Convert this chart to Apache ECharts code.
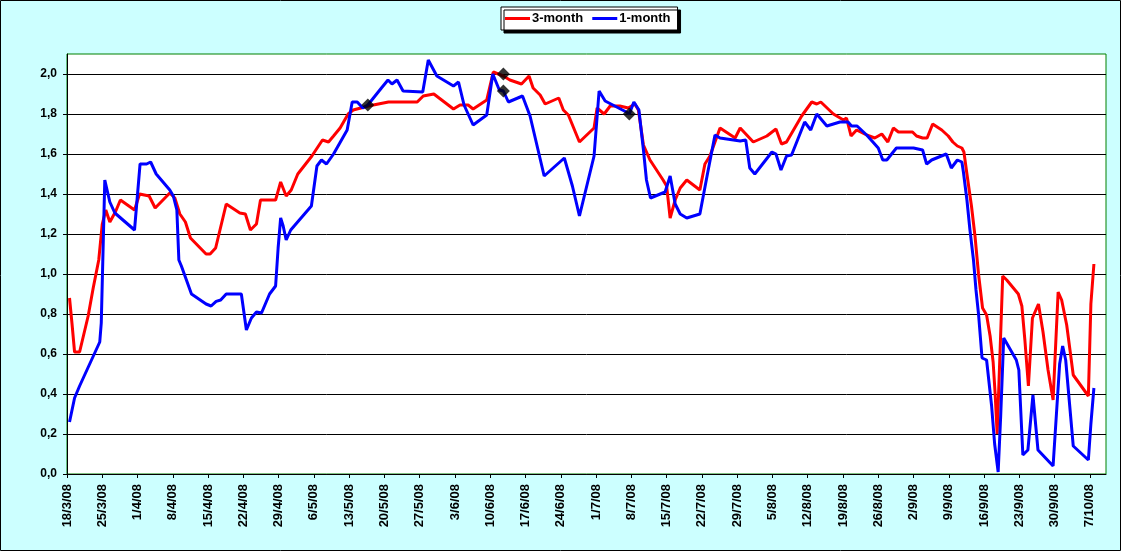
<!DOCTYPE html>
<html>
<head>
<meta charset="utf-8">
<script src="https://cdn.jsdelivr.net/npm/echarts@6/dist/echarts.min.js"></script>
<style>
html,body{margin:0;padding:0;background:#CCFFFF;}
#chart{width:1121px;height:551px;}
</style>
</head>
<body>
<div id="chart"></div>
<script>
// x positions are days since 18/3/08
var xTickLabels = ['18/3/08','25/3/08','1/4/08','8/4/08','15/4/08','22/4/08','29/4/08','6/5/08','13/5/08','20/5/08','27/5/08','3/6/08','10/6/08','17/6/08','24/6/08','1/7/08','8/7/08','15/7/08','22/7/08','29/7/08','5/8/08','12/8/08','19/8/08','26/8/08','2/9/08','9/9/08','16/9/08','23/9/08','30/9/08','7/10/08'];
var xTickDays = [0,7,14,21,28,35,42,49,56,63,70,77,84,91,98,105,112,119,126,133,140,147,154,161,168,175,182,189,196,203];
var yTickValues = [0,0.2,0.4,0.6,0.8,1.0,1.2,1.4,1.6,1.8,2.0];

var days3m = [0.5,1.0,1.5,2.5,4.2,5.2,6.3,7.0,7.7,8.5,9.6,10.6,13.4,14.4,16.3,17.5,20.4,21.4,22.4,23.5,24.5,27.6,28.4,29.5,31.6,34.3,35.4,36.4,37.6,38.4,41.4,42.4,43.5,44.5,45.8,48.6,50.7,51.9,52.9,54.2,55.8,56.8,59.8,63.8,69.5,70.7,72.8,76.7,78.0,79.6,80.6,83.3,84.6,86.6,87.9,90.2,91.7,92.5,93.9,94.9,97.6,98.5,99.5,101.7,104.6,105.2,106.6,107.8,109.7,111.4,112.7,113.4,114.4,115.7,118.3,119.0,119.7,120.7,121.7,123.0,125.6,126.6,127.6,129.6,132.6,133.6,136.2,138.9,140.7,141.8,142.8,145.8,147.8,148.8,149.6,152.1,154.1,154.7,155.6,156.7,158.7,160.3,161.7,162.9,164.0,165.0,167.8,168.6,169.8,170.7,171.8,173.6,174.9,175.8,176.7,177.6,178.0,178.6,179.5,180.2,180.9,181.7,182.5,183.2,183.8,184.2,184.6,185.7,186.5,188.8,189.5,190.1,190.8,191.6,192.8,193.7,194.7,195.7,196.7,197.4,198.4,199.7,202.7,203.2,203.8];
var vals3m = [0.88,0.75,0.61,0.61,0.79,0.93,1.07,1.25,1.32,1.26,1.31,1.37,1.32,1.40,1.39,1.33,1.405,1.38,1.30,1.26,1.18,1.10,1.10,1.13,1.35,1.305,1.30,1.22,1.25,1.37,1.37,1.46,1.39,1.42,1.50,1.59,1.67,1.66,1.69,1.73,1.80,1.82,1.84,1.86,1.86,1.89,1.90,1.825,1.845,1.845,1.825,1.87,2.01,1.99,1.97,1.95,1.99,1.93,1.895,1.85,1.88,1.82,1.795,1.66,1.73,1.83,1.80,1.84,1.84,1.83,1.85,1.82,1.645,1.57,1.47,1.44,1.28,1.37,1.43,1.47,1.42,1.55,1.59,1.73,1.68,1.73,1.66,1.69,1.725,1.65,1.66,1.79,1.86,1.85,1.86,1.80,1.77,1.78,1.69,1.72,1.695,1.68,1.70,1.66,1.73,1.71,1.71,1.69,1.68,1.68,1.75,1.72,1.69,1.66,1.64,1.63,1.61,1.50,1.34,1.19,1.00,0.83,0.795,0.69,0.56,0.40,0.20,0.99,0.97,0.90,0.84,0.67,0.44,0.78,0.85,0.71,0.52,0.37,0.91,0.87,0.745,0.495,0.39,0.85,1.05];

var days1m = [0.5,1.5,2.5,6.5,6.8,7.5,8.5,9.5,13.4,14.5,15.8,16.6,17.7,20.4,21.1,21.8,22.2,22.7,24.7,27.6,28.6,29.6,30.5,31.6,34.6,35.6,36.6,37.6,38.6,40.2,41.4,41.9,42.4,42.9,43.5,44.4,48.5,49.6,50.5,51.5,52.9,55.6,56.6,57.6,58.7,59.7,62.4,63.7,64.5,65.5,66.7,70.6,71.7,73.4,76.7,77.7,78.8,80.6,83.3,84.5,85.8,86.6,87.6,90.4,91.9,94.7,98.7,100.3,101.7,104.6,105.6,106.8,111.0,111.6,112.5,113.5,114.4,115.0,115.8,118.7,119.7,120.7,121.7,123.0,125.6,127.1,128.6,129.6,133.6,134.7,135.5,136.5,139.9,140.7,141.7,142.8,143.8,146.4,147.6,148.8,150.8,153.4,155.0,155.7,156.8,158.7,161.0,161.9,162.7,164.6,168.0,169.8,170.6,171.6,174.5,175.5,176.7,177.6,177.9,178.6,179.2,179.9,180.4,180.9,181.6,182.5,183.5,184.1,184.8,185.3,185.9,188.4,188.9,189.7,190.7,191.7,192.7,195.7,197.0,197.6,198.2,199.7,202.7,203.2,203.8];
var vals1m = [0.26,0.38,0.44,0.66,0.755,1.47,1.36,1.305,1.22,1.55,1.55,1.56,1.50,1.42,1.39,1.32,1.07,1.04,0.90,0.85,0.84,0.863,0.87,0.90,0.90,0.72,0.78,0.81,0.805,0.90,0.94,1.13,1.28,1.24,1.17,1.22,1.34,1.54,1.57,1.55,1.60,1.72,1.86,1.86,1.83,1.845,1.93,1.97,1.95,1.97,1.915,1.91,2.07,1.99,1.94,1.96,1.845,1.745,1.795,2.00,1.92,1.915,1.86,1.89,1.79,1.49,1.58,1.44,1.29,1.59,1.915,1.865,1.81,1.80,1.86,1.82,1.62,1.47,1.38,1.41,1.49,1.35,1.30,1.28,1.30,1.50,1.695,1.68,1.665,1.67,1.53,1.50,1.61,1.60,1.52,1.59,1.595,1.76,1.72,1.80,1.74,1.76,1.76,1.74,1.74,1.695,1.63,1.57,1.57,1.63,1.63,1.62,1.55,1.57,1.60,1.53,1.57,1.56,1.51,1.37,1.22,1.07,0.92,0.80,0.58,0.57,0.34,0.15,0.01,0.29,0.68,0.57,0.52,0.095,0.12,0.395,0.12,0.04,0.55,0.64,0.57,0.14,0.07,0.25,0.43];

var markDays = [59.7, 86.6, 86.6, 111.6];
var markVals = [1.845, 2.00, 1.915, 1.80];

function zip(a, b) { return a.map(function (d, i) { return [d, b[i]]; }); }

var FONT = 'Liberation Sans, Arial, sans-serif';
var chart = echarts.init(document.getElementById('chart'));
chart.setOption({
  backgroundColor: '#CCFFFF',
  animation: false,
  textStyle: { fontFamily: FONT },
  graphic: [{
    type: 'rect', z: 100, silent: true,
    shape: { x: 0.5, y: 0.5, width: 1120, height: 550 },
    style: { fill: 'none', stroke: '#000', lineWidth: 1 }
  }],
  legend: {
    left: 501, top: 7,
    data: ['3-month', '1-month'],
    backgroundColor: '#fff',
    borderColor: '#000', borderWidth: 1,
    shadowColor: '#000', shadowOffsetX: 3, shadowOffsetY: 3, shadowBlur: 0,
    padding: [5, 7, 5, 4],
    itemGap: 9,
    icon: 'rect',
    itemWidth: 25, itemHeight: 3,
    textStyle: { fontFamily: FONT, fontWeight: 'bold', fontSize: 13, color: '#000', padding: [0, 0, 0, -3] }
  },
  grid: {
    left: 67, top: 54, right: 15, bottom: 77,
    show: true, backgroundColor: '#fff', borderColor: '#008000', borderWidth: 1
  },
  xAxis: {
    type: 'value', min: 0, max: 206.2,
    axisLine: { show: true, lineStyle: { color: '#000', width: 1 } },
    axisTick: { show: true, length: 4, lineStyle: { color: '#000' }, customValues: xTickDays },
    splitLine: { show: false },
    axisLabel: {
      customValues: xTickDays,
      rotate: 90, margin: 10,
      fontFamily: FONT, fontWeight: 'bold', fontSize: 13, color: '#000',
      formatter: function (v) {
        var i = xTickDays.indexOf(Math.round(v));
        return i >= 0 ? xTickLabels[i] : '';
      }
    }
  },
  yAxis: {
    type: 'value', min: 0, max: 2.1,
    axisLine: { show: true, lineStyle: { color: '#000', width: 1 } },
    axisTick: { show: true, length: 4, lineStyle: { color: '#000' }, customValues: yTickValues },
    splitLine: { show: true, lineStyle: { color: '#000', width: 1 } },
    axisLabel: {
      customValues: yTickValues,
      margin: 10,
      fontFamily: FONT, fontWeight: 'bold', fontSize: 12, color: '#000',
      formatter: function (v) { return v.toFixed(1).replace('.', ','); }
    }
  },
  series: [
    {
      name: '3-month', type: 'line', data: zip(days3m, vals3m),
      showSymbol: false, symbol: 'none',
      lineStyle: { color: '#FF0000', width: 3 }, itemStyle: { color: '#FF0000' }, z: 3
    },
    {
      name: '1-month', type: 'line', data: zip(days1m, vals1m),
      showSymbol: false, symbol: 'none',
      lineStyle: { color: '#0000FF', width: 3 }, itemStyle: { color: '#0000FF' }, z: 4
    },
    {
      name: 'marks', type: 'scatter', data: zip(markDays, markVals),
      symbol: 'diamond', symbolSize: 13,
      itemStyle: { color: '#000' }, z: 5
    }
  ]
});
</script>
</body>
</html>
